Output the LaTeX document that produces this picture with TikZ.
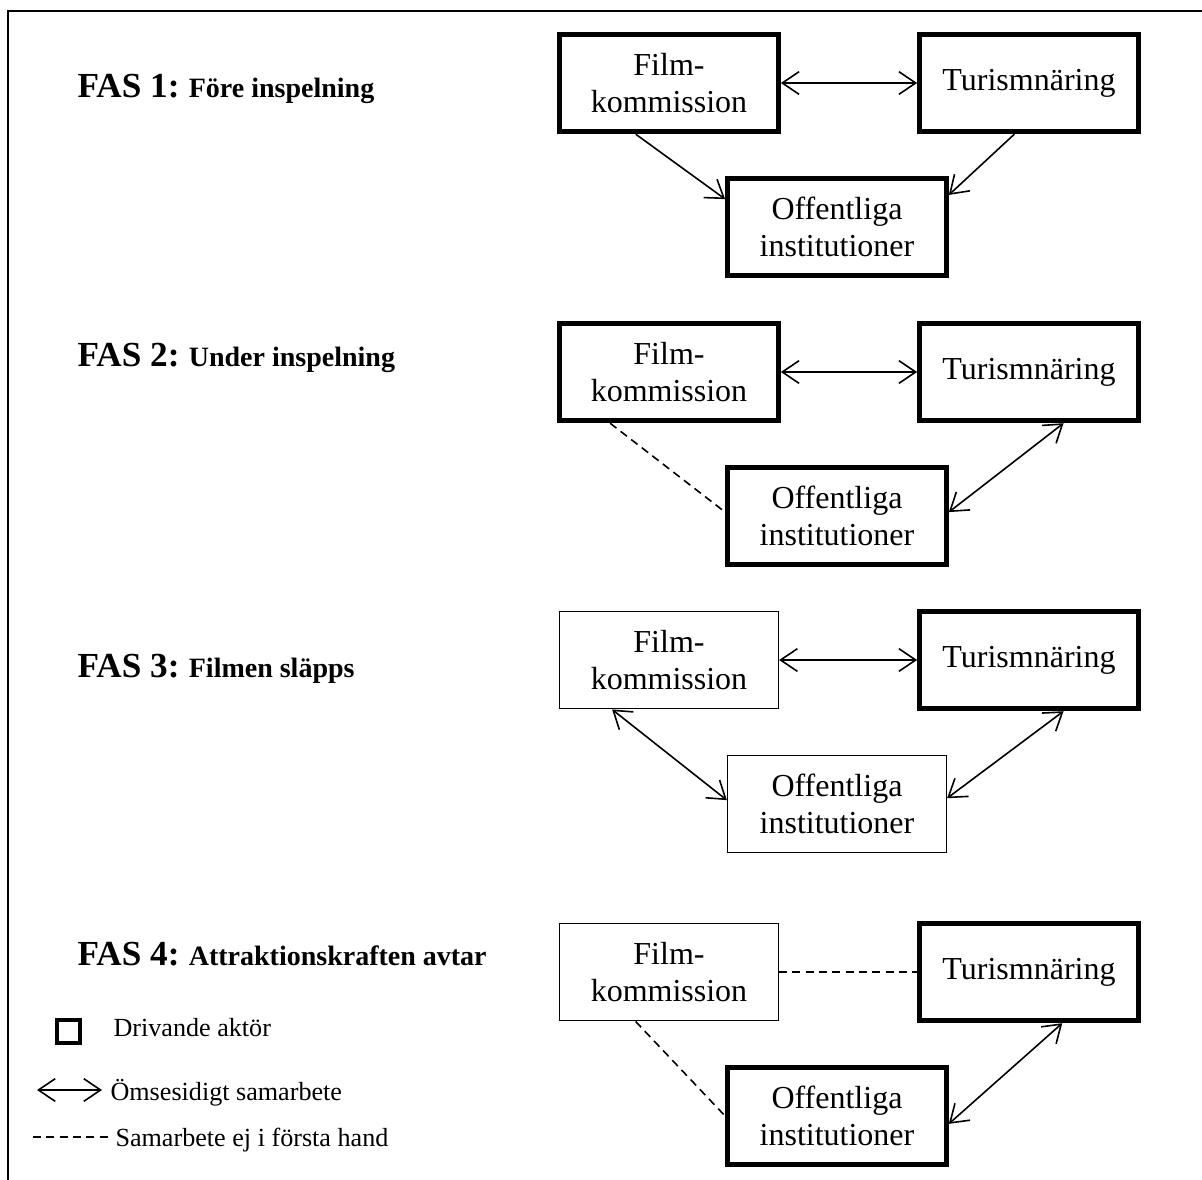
\documentclass[tikz,border=0pt]{standalone}
\usepackage{fontspec}
\setmainfont{Liberation Serif}
\usetikzlibrary{arrows.meta}

\begin{document}
\begin{tikzpicture}[x=0.375pt, y=-0.375pt,
aktor/.style = {
    draw, line width=0.6pt, align=center,
    minimum width=82pt, minimum height=36.5pt, inner sep=0pt,
    font=\fontsize{12}{14}\selectfont,
                },
drivande/.style = {aktor, line width=1.9pt},
sam/.style = {line width=0.6pt,
    {Straight Barb[length=6.3pt,width=8.5pt]}-{Straight Barb[length=6.3pt,width=8.5pt]}},
mot/.style = {line width=0.6pt, -{Straight Barb[length=6.3pt,width=8.5pt]}},
ej/.style  = {line width=0.6pt, dash pattern=on 3pt off 2pt},
fas/.style = {anchor=base west, inner sep=0pt,
    font=\bfseries\fontsize{10.5}{13}\selectfont},
legend/.style = {anchor=base west, inner sep=0pt,
    font=\fontsize{9.8}{11}\selectfont},
                    ]
\useasboundingbox (0,0) rectangle (1202,1180);
\draw[line width=0.75pt] (1202,11) -- (8,11) -- (8,1180);

% FAS 1
\node[fas] (fas1) at (77,97) {{\fontsize{13.2}{15}\selectfont FAS 1:} Före inspelning};
\node[drivande] (film1) at (669,83)  {Film-\\kommission};
\node[drivande] (tur1)  at (1029,83) {Turismnäring};
\node[drivande] (off1)  at (837,227) {Offentliga\\institutioner};
\draw[sam] (film1.east) -- (tur1.west);
\draw[mot] (film1.237)  -- (off1.166);
\draw[mot] (tur1.254)   -- (off1.16);

% FAS 2
\node[fas] (fas2) at (77,366) {{\fontsize{13.2}{15}\selectfont FAS 2:} Under inspelning};
\node[drivande] (film2) at (669,372)  {Film-\\kommission};
\node[drivande] (tur2)  at (1029,372) {Turismnäring};
\node[drivande] (off2)  at (837,516)  {Offentliga\\institutioner};
\draw[sam] (film2.east) -- (tur2.west);
\draw[ej]  (film2.221)  -- (off2.178);
\draw[sam] (tur2.304)   -- (off2.2);

% FAS 3
\node[fas] (fas3) at (77,677) {{\fontsize{13.2}{15}\selectfont FAS 3:} Filmen släpps};
\node[aktor]    (film3) at (669,660)  {Film-\\kommission};
\node[drivande] (tur3)  at (1029,660) {Turismnäring};
\node[aktor]    (off3)  at (837,804)  {Offentliga\\institutioner};
\draw[sam] (film3.east) -- (tur3.west);
\draw[sam] (film3.221)  -- (off3.178);
\draw[sam] (tur3.304)   -- (off3.3);

% FAS 4
\node[fas] (fas4) at (77,965) {{\fontsize{13.2}{15}\selectfont FAS 4:} Attraktionskraften avtar};
\node[aktor]    (film4) at (669,972)  {Film-\\kommission};
\node[drivande] (tur4)  at (1029,972) {Turismnäring};
\node[drivande] (off4)  at (837,1116) {Offentliga\\institutioner};
\draw[ej]  (film4.east) -- (tur4.west);
\draw[ej]  (film4.236)  -- (off4.180);
\draw[sam] (tur4.303)   -- (off4.356);

% legend
\node[draw, line width=1.7pt, minimum width=8.5pt, minimum height=8.5pt,
      inner sep=0pt] (ruta) at (68.5,1031.5) {};
\node[legend] (drv) at (113,1036) {Drivande aktör};
\coordinate (pil1) at (37,1090);
\coordinate (pil2) at (102,1090);
\draw[sam] (pil1) -- (pil2);
\node[legend] (oms) at (110,1100) {Ömsesidigt samarbete};
\coordinate (str1) at (33,1137);
\coordinate (str2) at (108,1137);
\draw[ej] (str1) -- (str2);
\node[legend] (ejf) at (115,1146) {Samarbete ej i första hand};
\end{tikzpicture}
\end{document}
